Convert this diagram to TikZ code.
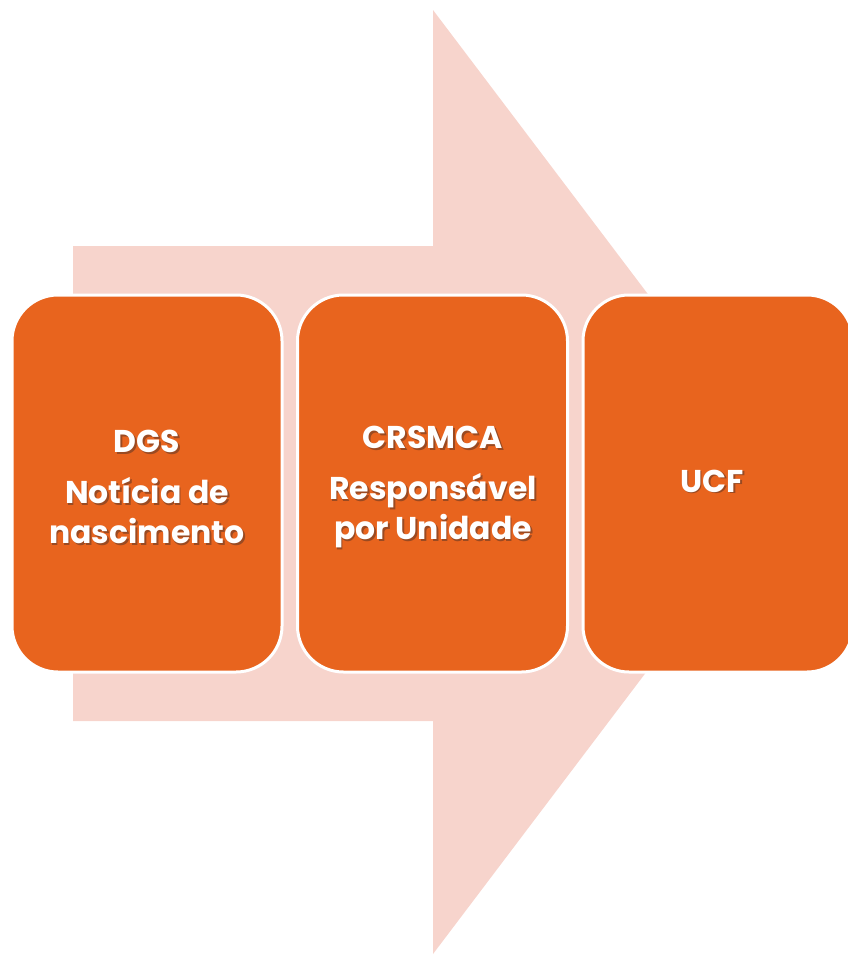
\documentclass[tikz,border=0pt]{standalone}
\usepackage{fontspec}
\setmainfont{Poppins}[BoldFont={* Bold}]
\definecolor{boxorange}{HTML}{E8641E}
\definecolor{arrowpink}{HTML}{F7D4CC}
\definecolor{shadowcol}{HTML}{9A4A22}
\newcommand\shd[1]{\rlap{\hspace{1.6pt}\raisebox{-1.6pt}{\textcolor{shadowcol}{#1}}}#1}
\begin{document}
\begin{tikzpicture}[x=1pt,y=-1pt,
  stagebox/.style={draw=white,line width=3pt,fill=boxorange,rounded corners=46pt,minimum width=270pt,minimum height=377pt,inner sep=0pt},
  lbl/.style={text=white,font=\bfseries\fontsize{31.5}{40}\selectfont,align=center}]
\useasboundingbox (0,0) rectangle (848,956);
\clip (0,0) rectangle (848,956);
\fill[arrowpink] (73,246) -- (433,246) -- (433,10) -- (790,482) -- (433,954) -- (433,721) -- (73,721) -- cycle;
\node[stagebox] (b1) at (147,483.5) {};
\node[stagebox] (b2) at (432.5,483.5) {};
\node[stagebox] (b3) at (718,483.5) {};
\node[lbl] (t1) at (147,488) {\shd{DGS}\\[11pt]\shd{Notícia de}\\\shd{nascimento}};
\node[lbl] (t2) at (433,488) {\shd{CRSMCA}\\[11pt]\shd{Responsável}\\\shd{por Unidade}};
\node[lbl] (t3) at (712,482) {\shd{UCF}};
\end{tikzpicture}
\end{document}
